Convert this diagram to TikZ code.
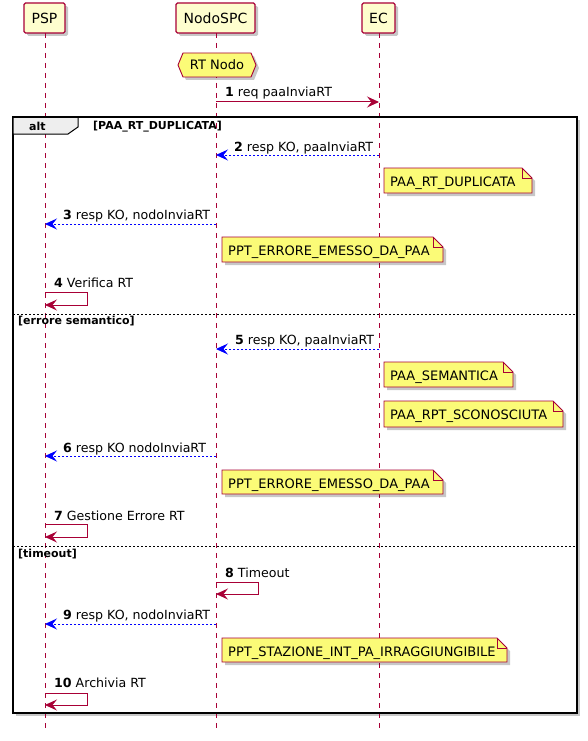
\documentclass[tikz,border=0pt]{standalone}
\usepackage{fontspec}
\setmainfont{DejaVu Sans}
\usetikzlibrary{arrows.meta,shadows}

\definecolor{umlred}{HTML}{A80036}
\definecolor{partfill}{HTML}{FEFECE}
\definecolor{notefill}{HTML}{FBFB77}
\definecolor{tabfill}{HTML}{EEEEEE}
\definecolor{replyblue}{HTML}{0000FF}

% sticky note with folded top-right corner: name, left, top, right, bottom, text
\newcommand{\seqnote}[6]{%
  \draw[notebody] (#2,#3) -- (#4-10,#3) -- (#4,#3+10) -- (#4,#5) -- (#2,#5) -- cycle;
  \draw[notefold] (#4-10,#3) -- (#4-10,#3+10) -- (#4,#3+10);
  \node[notetext] (#1) at (#2+6,#3+18) {#6};
}

\tikzset{
  softshadow/.style={drop shadow={shadow xshift=3pt, shadow yshift=-3pt, fill=black, opacity=0.22}},
  participant/.style={draw=umlred, line width=1.4pt, fill=partfill, rounded corners=1.5pt,
    inner sep=0pt, minimum height=30pt, font=\fontsize{14}{16}\selectfont, softshadow},
  lifeline/.style={draw=umlred, line width=0.8pt, dash pattern=on 5pt off 5pt},
  notebody/.style={draw=umlred, line width=0.9pt, fill=notefill, softshadow},
  notefold/.style={draw=umlred, line width=0.9pt},
  notetext/.style={anchor=base west, inner sep=0pt, font=\fontsize{13}{15}\selectfont},
  msglabel/.style={anchor=base west, inner sep=0pt, font=\fontsize{12.6}{15}\selectfont},
  request/.style={draw=umlred, line width=1pt,
    -{Stealth[length=12pt,width=11pt,inset=4.5pt]}},
  reply/.style={draw=replyblue, line width=0.9pt, dash pattern=on 2pt off 2pt,
    -{Stealth[length=12pt,width=11pt,inset=4.5pt]}},
  framefill/.style={fill=white, softshadow},
  frameline/.style={draw=black, line width=1.8pt},
  framelabel/.style={anchor=base west, inner sep=0pt, font=\fontsize{11}{13}\selectfont\bfseries},
  separator/.style={draw=black, line width=0.7pt, dash pattern=on 2pt off 2pt},
}

\begin{document}
\begin{tikzpicture}[x=1pt,y=-1pt]
\useasboundingbox[fill=white] (0,0) rectangle (588,741);

% participants
\node[participant, minimum width=41pt] (psp)  at (44.5,18) {PSP};
\node[participant, minimum width=79pt] (nodo) at (215.5,18) {NodoSPC};
\node[participant, minimum width=33pt] (ec)   at (378.5,18) {EC};

% alt frame background with its shadow
\path[framefill] (13,117) rectangle (577,713);

% lifelines
\coordinate (pspL)  at (45,33);
\coordinate (nodoL) at (216,33);
\coordinate (ecL)   at (379,33);
\coordinate (pspEnd)  at (45,730);
\coordinate (nodoEnd) at (216,730);
\coordinate (ecEnd)   at (379,730);
\draw[lifeline] (pspL) -- (pspEnd);
\draw[lifeline] (nodoL) -- (nodoEnd);
\draw[lifeline] (ecL) -- (ecEnd);

% hexagonal state marker
\draw[notebody] (178,65) -- (183,53) -- (251,53) -- (256,65) -- (251,77) -- (183,77) -- cycle;
\node[inner sep=0pt, font=\fontsize{13}{15}\selectfont] (rtnodo) at (217,65) {RT Nodo};

% 1
\node[msglabel] (l1) at (225,97) {\textbf{1} req paaInviaRT};
\draw[request] (nodoL |- 0,102) -- (ecL |- 0,102);

% alt frame outline and tab
\draw[frameline] (13,117) rectangle (577,713);
\draw[fill=tabfill, draw=black, line width=1pt] (13,117) -- (78,117) -- (78,127) -- (68,134) -- (13,134) -- cycle;
\draw[frameline] (13,117) -- (577,117);
\node[framelabel] (alt) at (29,131) {alt};
\node[framelabel] (g1) at (93,129) {[PAA\_RT\_DUPLICATA]};

% 2
\node[msglabel] (l2) at (234,151) {\textbf{2} resp KO, paaInviaRT};
\draw[reply] (ecL |- 0,155) -- (nodoL |- 0,155);
\seqnote{n1}{384}{168}{532}{193}{PAA\_RT\_DUPLICATA}

% 3
\node[msglabel] (l3) at (63,219) {\textbf{3} resp KO, nodoInviaRT};
\draw[reply] (nodoL |- 0,224) -- (pspL |- 0,224);
\seqnote{n2}{222}{237}{443}{262}{PPT\_ERRORE\_EMESSO\_DA\_PAA}

% 4
\node[msglabel] (l4) at (54,287) {\textbf{4} Verifica RT};
\draw[request] (pspL |- 0,292) -- (87,292) -- (87,305) -- (pspL |- 0,305);

% else: errore semantico
\draw[separator] (13,314) -- (577,314);
\node[framelabel] (g2) at (18,324) {[errore semantico]};

% 5
\node[msglabel] (l5) at (235,344) {\textbf{5} resp KO, paaInviaRT};
\draw[reply] (ecL |- 0,349) -- (nodoL |- 0,349);
\seqnote{n3}{384}{362}{513}{387}{PAA\_SEMANTICA}
\seqnote{n4}{384}{401}{563}{427}{PAA\_RPT\_SCONOSCIUTA}

% 6
\node[msglabel] (l6) at (63,452) {\textbf{6} resp KO nodoInviaRT};
\draw[reply] (nodoL |- 0,456) -- (pspL |- 0,456);
\seqnote{n5}{222}{470}{443}{494}{PPT\_ERRORE\_EMESSO\_DA\_PAA}

% 7
\node[msglabel] (l7) at (54,520) {\textbf{7} Gestione Errore RT};
\draw[request] (pspL |- 0,524) -- (87,524) -- (87,537) -- (pspL |- 0,537);

% else: timeout
\draw[separator] (13,546) -- (577,546);
\node[framelabel] (g3) at (18,557) {[timeout]};

% 8
\node[msglabel] (l8) at (225,577) {\textbf{8} Timeout};
\draw[request] (nodoL |- 0,582) -- (258,582) -- (258,594) -- (nodoL |- 0,594);

% 9
\node[msglabel] (l9) at (63,619) {\textbf{9} resp KO, nodoInviaRT};
\draw[reply] (nodoL |- 0,624) -- (pspL |- 0,624);
\seqnote{n6}{222}{638}{507}{662}{PPT\_STAZIONE\_INT\_PA\_IRRAGGIUNGIBILE}

% 10
\node[msglabel] (l10) at (54,687) {\textbf{10} Archivia RT};
\draw[request] (pspL |- 0,693) -- (87,693) -- (87,705) -- (pspL |- 0,705);

\end{tikzpicture}
\end{document}
